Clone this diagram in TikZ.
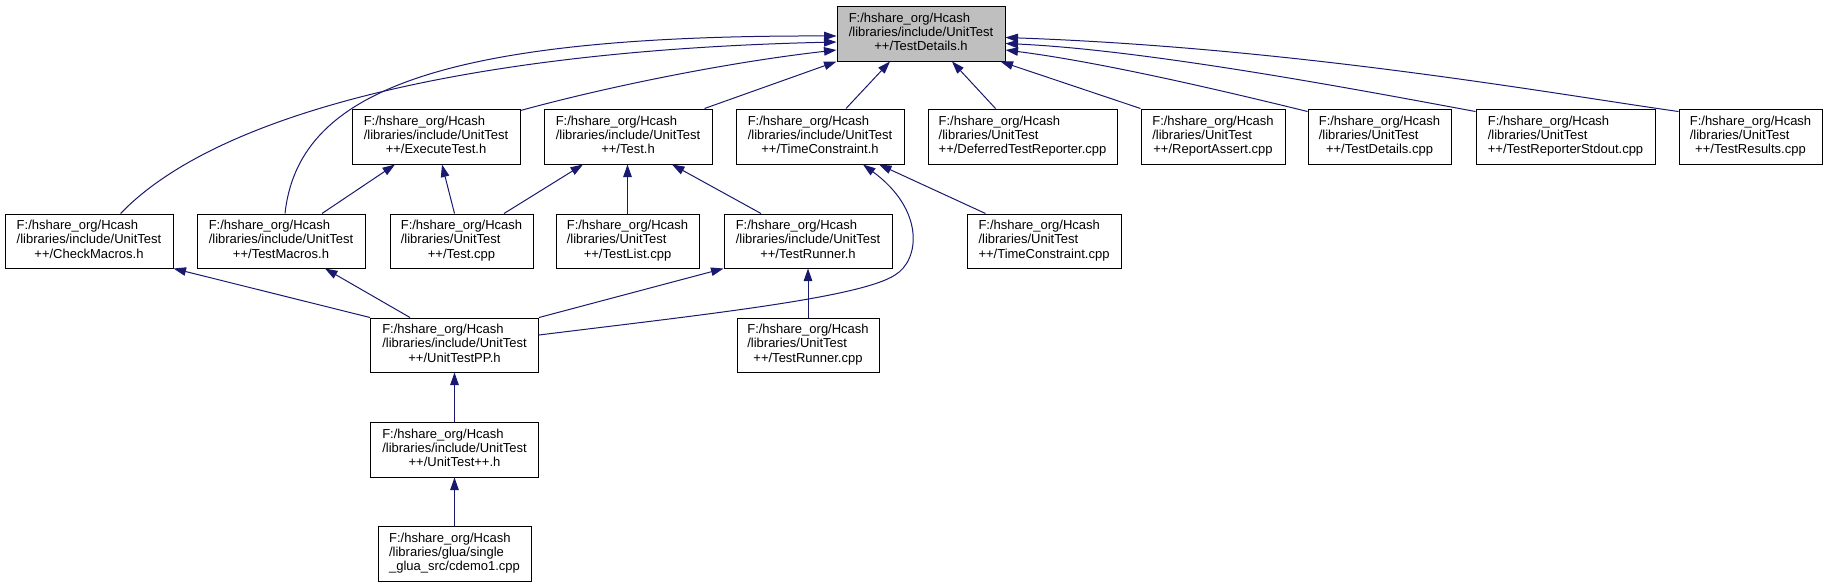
\documentclass[tikz,border=0pt]{standalone}
\usepackage{fontspec}
\setmainfont{Liberation Sans}
\usetikzlibrary{arrows.meta}
\definecolor{navy}{HTML}{191970}
\definecolor{hl}{HTML}{BFBFBF}
\newcommand{\flbl}[3]{\begin{tabular}{@{}l@{}}#1\\#2\\\multicolumn{1}{@{}c@{}}{#3}\end{tabular}}
\tikzset{
  box/.style={draw=black, fill=white, line width=1pt, rectangle, inner sep=0pt,
    minimum height=55pt, font=\fontsize{13}{14.3}\selectfont, align=center},
  edge/.style={draw=navy, line width=1pt, -{Triangle[length=12.5pt,width=8.5pt,fill=navy]}}
}
\begin{document}
\begin{tikzpicture}[x=1pt,y=-1pt]
\fill[white] (0,0) rectangle (1827,587);
\useasboundingbox (0,0) rectangle (1827,587);
% row 1
\node[box, fill=hl, minimum width=168pt] (TD) at (921,33.5) {\flbl{F:/hshare\_org/Hcash}{/libraries/include/UnitTest}{++/TestDetails.h}};
% row 2
\node[box, minimum width=168pt] (ET) at (436,136.5) {\flbl{F:/hshare\_org/Hcash}{/libraries/include/UnitTest}{++/ExecuteTest.h}};
\node[box, minimum width=168pt] (TH) at (628,136.5) {\flbl{F:/hshare\_org/Hcash}{/libraries/include/UnitTest}{++/Test.h}};
\node[box, minimum width=168pt] (TCH) at (820,136.5) {\flbl{F:/hshare\_org/Hcash}{/libraries/include/UnitTest}{++/TimeConstraint.h}};
\node[box, minimum width=189pt] (DTR) at (1022.5,136.5) {\flbl{F:/hshare\_org/Hcash}{/libraries/UnitTest}{++/DeferredTestReporter.cpp}};
\node[box, minimum width=144pt] (RA) at (1213,136.5) {\flbl{F:/hshare\_org/Hcash}{/libraries/UnitTest}{++/ReportAssert.cpp}};
\node[box, minimum width=143pt] (TDC) at (1379.5,136.5) {\flbl{F:/hshare\_org/Hcash}{/libraries/UnitTest}{++/TestDetails.cpp}};
\node[box, minimum width=179pt] (TRS) at (1565.5,136.5) {\flbl{F:/hshare\_org/Hcash}{/libraries/UnitTest}{++/TestReporterStdout.cpp}};
\node[box, minimum width=143pt] (TRes) at (1750.5,136.5) {\flbl{F:/hshare\_org/Hcash}{/libraries/UnitTest}{++/TestResults.cpp}};
% row 3
\node[box, minimum width=168pt, minimum height=54pt] (CM) at (89,241) {\flbl{F:/hshare\_org/Hcash}{/libraries/include/UnitTest}{++/CheckMacros.h}};
\node[box, minimum width=168pt, minimum height=54pt] (TM) at (281,241) {\flbl{F:/hshare\_org/Hcash}{/libraries/include/UnitTest}{++/TestMacros.h}};
\node[box, minimum width=143pt, minimum height=54pt] (TC) at (461.5,241) {\flbl{F:/hshare\_org/Hcash}{/libraries/UnitTest}{++/Test.cpp}};
\node[box, minimum width=143pt, minimum height=54pt] (TL) at (627.5,241) {\flbl{F:/hshare\_org/Hcash}{/libraries/UnitTest}{++/TestList.cpp}};
\node[box, minimum width=168pt, minimum height=54pt] (TRh) at (808,241) {\flbl{F:/hshare\_org/Hcash}{/libraries/include/UnitTest}{++/TestRunner.h}};
\node[box, minimum width=154pt, minimum height=54pt] (TCC) at (1044,241) {\flbl{F:/hshare\_org/Hcash}{/libraries/UnitTest}{++/TimeConstraint.cpp}};
% row 4
\node[box, minimum width=168pt, minimum height=54pt] (UPP) at (454.5,345) {\flbl{F:/hshare\_org/Hcash}{/libraries/include/UnitTest}{++/UnitTestPP.h}};
\node[box, minimum width=142pt, minimum height=54pt] (TRC) at (808,345) {\flbl{F:/hshare\_org/Hcash}{/libraries/UnitTest}{++/TestRunner.cpp}};
% row 5
\node[box, minimum width=168pt] (UTH) at (454.5,449.5) {\flbl{F:/hshare\_org/Hcash}{/libraries/include/UnitTest}{++/UnitTest++.h}};
% row 6
\node[box, minimum width=153pt] (CD) at (454.5,553.5) {\flbl{F:/hshare\_org/Hcash}{/libraries/glua/single}{\_glua\_src/cdemo1.cpp}};
% edges into TestDetails.h
\draw[edge] ([xshift=4pt]TM.north) .. controls (298,95) and (430,35) .. ([yshift=-2.5pt]TD.west);
\draw[edge] ([xshift=31.6pt]CM.north) .. controls (220,110) and (480,50) .. ([yshift=-8.5pt]TD.west);
\draw[edge] ([yshift=-2pt]ET.north east) .. controls (610,86) and (730,62) .. ([yshift=-16.5pt]TD.west);
\draw[edge] ([xshift=-8pt]TH.north east) -- (TD.south west);
\draw[edge] ([xshift=26pt]TCH.north) -- ([xshift=-31pt]TD.south);
\draw[edge] ([xshift=-27pt]DTR.north) -- ([xshift=31pt]TD.south);
\draw[edge] (RA.north west) -- ([xshift=-5pt]TD.south east);
\draw[edge] ([yshift=-3pt]TDC.north west) .. controls (1220,90) and (1100,62) .. ([yshift=-16.5pt]TD.east);
\draw[edge] ([yshift=-3pt]TRS.north west) .. controls (1370,92) and (1150,50) .. ([yshift=-10pt]TD.east);
\draw[edge] ([yshift=-3pt]TRes.north west) .. controls (1560,95) and (1300,48) .. ([yshift=-4pt]TD.east);
% row 3 -> row 2
\draw[edge] ([xshift=41pt]TM.north) -- ([xshift=-41pt]ET.south);
\draw[edge] ([xshift=-7pt]TC.north) -- ([xshift=6pt]ET.south);
\draw[edge] ([xshift=42.5pt]TC.north) -- ([xshift=-45pt]TH.south);
\draw[edge] (TL.north) -- (TL.north |- TH.south);
\draw[edge] ([xshift=-47pt]TRh.north) -- ([xshift=44pt]TH.south);
\draw[edge] ([xshift=-58.5pt]TCC.north) -- ([xshift=59pt]TCH.south);
% UnitTestPP.h edges
\coordinate (w1) at (895,275);
\draw[edge] ([yshift=10pt]UPP.east) .. controls (700,315) and (860,298) .. (w1) .. controls (920,260) and (925,210) .. ([xshift=43pt]TCH.south);
\draw[edge] (UPP.north west) -- (CM.south east);
\draw[edge] ([xshift=-44.5pt]UPP.north) -- ([xshift=44pt]TM.south);
\draw[edge] (UPP.north east) -- (TRh.south west);
\draw[edge] (TRC.north) -- (TRh.south);
\draw[edge] (UTH.north) -- (UPP.south);
\draw[edge] (CD.north) -- (UTH.south);
\end{tikzpicture}
\end{document}
